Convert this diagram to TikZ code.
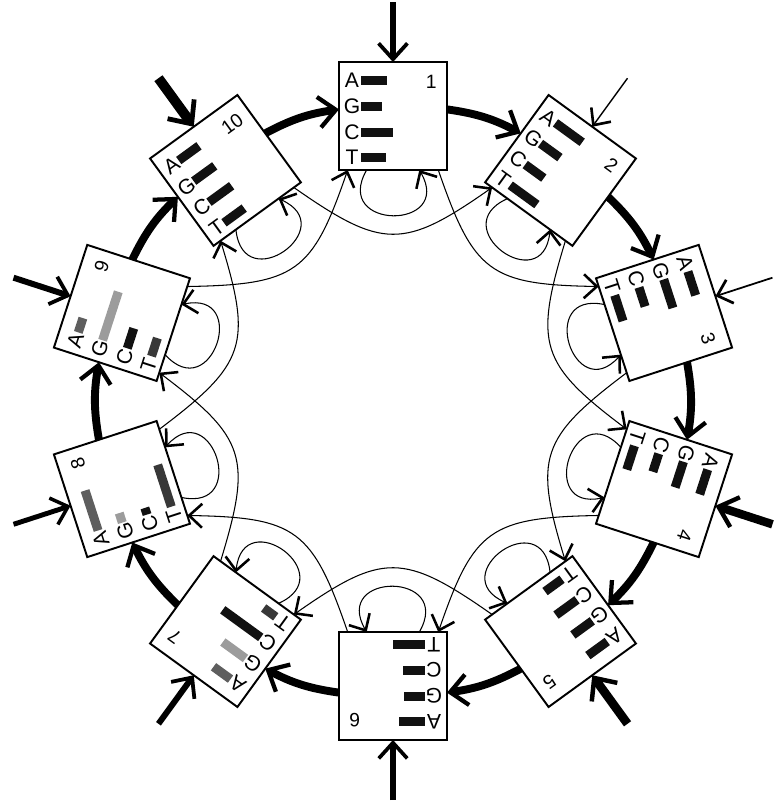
\documentclass[tikz,border=0pt]{standalone}
\usepackage{fontspec}
\setmainfont{Liberation Sans}
\usepackage{xcolor}
\definecolor{vizBar}{HTML}{111111}
\definecolor{vizDark}{HTML}{383838}
\definecolor{vizMid}{HTML}{5E5E5E}
\definecolor{vizLight}{HTML}{9C9C9C}
\usetikzlibrary{arrows.meta}

\tikzset{
  >={Straight Barb[length=7pt 0.6, width=13pt 1, line width=1.3pt 0.25]},
  box/.style={draw, line width=1.1pt, minimum size=2.16cm, inner sep=0pt, outer sep=0pt},
  base/.style={inner sep=0pt, font=\fontsize{12}{12}\selectfont},
  num/.style={inner sep=0pt, anchor=north east, font=\fontsize{11}{11}\selectfont},
  ring/.style={line width=4.5pt, ->},
  thinline/.style={line width=0.6pt, ->},
  feed/.style={->}
}

\begin{document}
\begin{tikzpicture}[x=0.02cm, y=0.02cm]
  \useasboundingbox (-393,-401) rectangle (385,401);
  \foreach \k/\la/\lg/\lc/\lt/\ca/\cg/\cc/\ct in {
    1/26/21/32/25/vizBar/vizBar/vizBar/vizBar,
    2/33/24/23/33/vizBar/vizBar/vizBar/vizBar,
    3/25/30/20/27/vizBar/vizBar/vizBar/vizBar,
    4/26/27/19/25/vizBar/vizBar/vizBar/vizBar,
    5/24/24/26/21/vizBar/vizBar/vizBar/vizBar,
    6/26/21/22/32/vizBar/vizBar/vizBar/vizBar,
    7/21/28/47/15/vizMid/vizLight/vizBar/vizDark,
    8/42/10/7/44/vizMid/vizLight/vizBar/vizDark,
    9/15/51/21/19/vizMid/vizLight/vizBar/vizDark,
    10/25/26/28/25/vizBar/vizBar/vizBar/vizBar} {
    \pgfmathsetmacro\ang{90-36*(\k-1)}
    \begin{scope}[shift={(\ang:285)}, rotate=\ang-90, transform shape]
      \node[box] (b\k) at (0,0) {};
      \node[base] at (-41,35.5) {A};
      \node[base] at (-41,10) {G};
      \node[base] at (-41,-16) {C};
      \node[base] at (-41,-41.5) {T};
      \fill[\ca] (-32,31) rectangle ++(\la,9);
      \fill[\cg] (-32,5.5) rectangle ++(\lg,9);
      \fill[\cc] (-32,-20.5) rectangle ++(\lc,9);
      \fill[\ct] (-32,-46) rectangle ++(\lt,9);
      \node[num] at (44,41) {\k};
      \draw[thinline] (b\k.244) .. controls +(-120:70) and +(-60:70) .. (b\k.296);
    \end{scope}
  }
  \foreach \k in {1,...,10} {
    \pgfmathtruncatemacro\n{mod(\k,10)+1}
    \pgfmathtruncatemacro\m{mod(\k+1,10)+1}
    \pgfmathsetmacro\ou{325-36*\k}
    \pgfmathsetmacro\iu{215-36*\k}
    \draw[ring] (b\k.7) to[bend left=10] (b\n.173);
    \draw[thinline] (b\k.310) to[out=\ou, in=\iu, looseness=1.4] (b\m.230);
  }
  \foreach \k/\w in {1/3.4pt, 2/0.8pt, 3/1pt, 4/4.8pt, 5/5pt, 6/3.2pt, 7/3.4pt, 8/2.8pt, 9/3.4pt, 10/5.7pt} {
    \pgfmathsetmacro\ang{90-36*(\k-1)}
    \coordinate (src\k) at (\ang:399);
    \draw[feed, line width=\w] (src\k) -- (b\k.north);
  }
\end{tikzpicture}
\end{document}
